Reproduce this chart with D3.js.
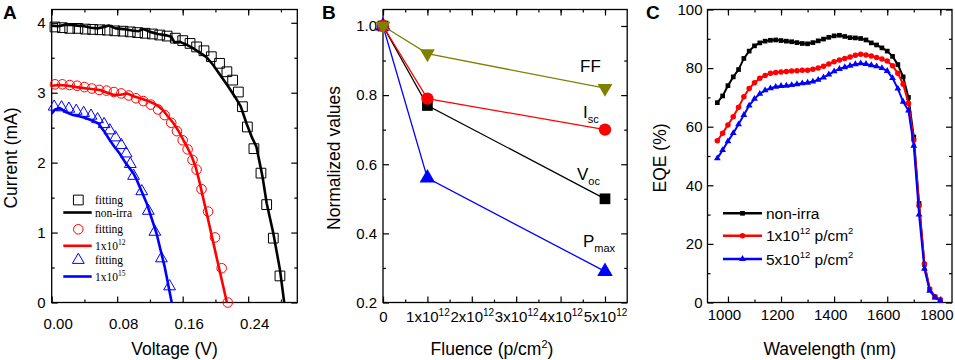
<!DOCTYPE html>
<html>
<head>
<meta charset="utf-8">
<script src="https://cdn.jsdelivr.net/npm/d3@7"></script>
<style>
body { margin: 0; background: #fff; }
svg { font-family: Arial, "Liberation Sans", sans-serif; }
</style>
</head>
<body>
<svg id="chart" width="955" height="360"></svg>
<script>
// ---- panel A: I-V curves, [voltage V, current mA]
var nonIrraLine = [[0.000, 3.96], [0.008, 3.95], [0.016, 3.97], [0.024, 3.97], [0.032, 3.96], [0.040, 3.95],
    [0.048, 3.93], [0.056, 3.92], [0.064, 3.94], [0.070, 3.96], [0.078, 3.92], [0.088, 3.91], [0.098, 3.89],
    [0.106, 3.88], [0.112, 3.91], [0.120, 3.87], [0.130, 3.84], [0.140, 3.82], [0.146, 3.80], [0.150, 3.72],
    [0.156, 3.73], [0.164, 3.69], [0.172, 3.64], [0.180, 3.58], [0.189, 3.51], [0.197, 3.40], [0.206, 3.25],
    [0.215, 3.10], [0.224, 2.94], [0.231, 2.80], [0.238, 2.56], [0.245, 2.35], [0.250, 2.23], [0.2575, 1.80],
    [0.2626, 1.42], [0.2707, 0.99], [0.2788, 0.47], [0.284, 0.0]];
var nonIrraFit = [[0.004, 3.94], [0.013, 3.93], [0.022, 3.92], [0.032, 3.92], [0.041, 3.91], [0.050, 3.905],
    [0.059, 3.90], [0.068, 3.895], [0.077, 3.885], [0.087, 3.88], [0.096, 3.87], [0.105, 3.86], [0.114, 3.85],
    [0.123, 3.84], [0.132, 3.825], [0.141, 3.81], [0.151, 3.78], [0.160, 3.745], [0.169, 3.705], [0.177, 3.655],
    [0.186, 3.60], [0.195, 3.515], [0.205, 3.42], [0.214, 3.30], [0.221, 3.18], [0.228, 3.01], [0.233, 2.80],
    [0.239, 2.51], [0.247, 2.20], [0.2556, 1.85], [0.2626, 1.40], [0.2707, 0.92], [0.2788, 0.38]];
var e12Line = [[0.000, 3.10], [0.010, 3.11], [0.020, 3.10], [0.030, 3.08], [0.043, 3.06], [0.059, 3.04],
    [0.068, 3.00], [0.075, 2.97], [0.084, 2.97], [0.092, 2.99], [0.100, 2.95], [0.108, 2.92], [0.116, 2.89],
    [0.124, 2.85], [0.130, 2.81], [0.136, 2.75], [0.142, 2.66], [0.149, 2.56], [0.155, 2.45], [0.161, 2.32],
    [0.166, 2.21], [0.171, 2.09], [0.176, 1.93], [0.180, 1.75], [0.190, 1.24], [0.200, 0.72], [0.214, 0.0]];
var e12Fit = [[0.004, 3.12], [0.013, 3.12], [0.022, 3.11], [0.031, 3.10], [0.040, 3.08], [0.049, 3.06],
    [0.058, 3.04], [0.067, 3.03], [0.076, 3.01], [0.085, 2.99], [0.094, 2.96], [0.103, 2.92], [0.112, 2.88],
    [0.121, 2.83], [0.130, 2.76], [0.138, 2.68], [0.146, 2.57], [0.153, 2.45], [0.160, 2.32], [0.166, 2.19],
    [0.172, 2.04], [0.177, 1.90], [0.183, 1.62], [0.191, 1.30], [0.1995, 0.93], [0.2076, 0.49], [0.215, 0.0]];
var e15Line = [[0.000, 2.70], [0.004, 2.76], [0.010, 2.78], [0.018, 2.72], [0.026, 2.68], [0.035, 2.66],
    [0.043, 2.63], [0.050, 2.60], [0.057, 2.56], [0.064, 2.45], [0.071, 2.32], [0.077, 2.22], [0.083, 2.13],
    [0.090, 2.00], [0.0997, 1.85], [0.104, 1.75], [0.116, 1.42], [0.128, 0.99], [0.138, 0.51], [0.1466, 0.0]];
var e15Fit = [[0.003, 2.80], [0.012, 2.79], [0.021, 2.77], [0.030, 2.74], [0.039, 2.71], [0.048, 2.67],
    [0.056, 2.62], [0.064, 2.55], [0.071, 2.46], [0.078, 2.36], [0.085, 2.25], [0.091, 2.13], [0.096, 1.98],
    [0.100, 1.81], [0.110, 1.59], [0.118, 1.31], [0.126, 1.01], [0.134, 0.63], [0.144, 0.23]];
var voltageTicks = [0, 0.08, 0.16, 0.24];
var voltageMinor = [0.04, 0.12, 0.20, 0.28];
var currentTicks = [0, 1, 2, 3, 4];
var currentMinor = [0.5, 1.5, 2.5, 3.5];

// ---- panel B: normalized parameters vs fluence
var fluence = [0, 1e12, 5e12];
var ffValues = [1.0, 0.92, 0.82];
var iscValues = [1.0, 0.79, 0.70];
var vocValues = [1.0, 0.77, 0.50];
var pmaxValues = [1.0, 0.56, 0.29];
var fluenceTicks = [0, 1e12, 2e12, 3e12, 4e12, 5e12];
var fluenceMinor = [0.5e12, 1.5e12, 2.5e12, 3.5e12, 4.5e12];
var normTicks = [0.2, 0.4, 0.6, 0.8, 1.0];
var normMinor = [0.3, 0.5, 0.7, 0.9];

// ---- panel C: EQE spectra
var wavelength = [960, 980, 1000, 1020, 1040, 1060, 1080, 1100, 1120, 1140, 1160, 1180, 1200, 1220, 1240,
    1260, 1280, 1300, 1320, 1340, 1360, 1380, 1400, 1420, 1440, 1460, 1480, 1500, 1520, 1540, 1560, 1580,
    1600, 1620, 1640, 1660, 1680, 1700, 1720, 1740, 1760, 1780, 1800];
var eqeNonIrra = [68.2, 70.5, 74.0, 77.0, 79.5, 83.3, 85.8, 87.6, 88.6, 89.2, 89.5, 89.6, 89.4, 89.2, 89.0,
    88.7, 88.4, 88.3, 88.7, 89.3, 89.9, 90.5, 91.0, 91.2, 90.8, 90.4, 90.3, 90.1, 89.6, 88.6, 87.9, 86.9,
    85.8, 84.0, 81.2, 77.0, 70.0, 56.5, 33.8, 13.0, 4.5, 1.9, 0.8];
var eqe1e12 = [55.2, 57.8, 60.6, 63.4, 66.6, 70.2, 73.0, 75.0, 76.5, 77.5, 78.2, 78.5, 78.7, 78.8, 79.0,
    79.1, 79.3, 79.3, 79.6, 80.0, 80.6, 81.4, 82.2, 82.8, 83.3, 83.8, 84.4, 84.7, 84.5, 84.1, 83.6, 83.1,
    82.4, 80.8, 78.2, 74.5, 68.0, 55.5, 33.0, 13.2, 4.6, 2.0, 0.9];
var eqe5e12 = [49.2, 52.0, 55.0, 57.8, 60.8, 64.0, 67.2, 69.5, 71.2, 72.4, 73.1, 73.6, 73.9, 74.0, 74.2,
    74.5, 74.8, 75.0, 75.4, 76.0, 76.8, 77.8, 78.9, 79.7, 80.3, 80.8, 81.3, 81.6, 81.4, 81.0, 80.6, 80.0,
    79.0, 76.6, 73.0, 68.5, 65.5, 53.5, 30.0, 11.5, 4.0, 1.7, 0.6];
var wavelengthTicks = [1000, 1200, 1400, 1600, 1800];
var wavelengthMinor = [1100, 1300, 1500, 1700];
var eqeTicks = [0, 20, 40, 60, 80, 100];
var eqeMinor = [10, 30, 50, 70, 90];

var svg = d3.select("#chart");
var FONT = "Arial, 'Liberation Sans', sans-serif";

var strip = function(sel) {
    sel.select(".domain").remove();
    sel.attr("font-family", FONT).attr("font-size", 15);
    sel.selectAll(".tick line").attr("stroke-width", 1.2);
};

// frame with inward major/minor ticks on all four sides
var drawAxes = function(x, y, cfg) {
    var g = svg.append("g");
    var left = x.range()[0], right = x.range()[1], bottom = y.range()[0], top = y.range()[1];

    g.append("g").attr("transform", "translate(0," + bottom + ")")
        .call(d3.axisBottom(x).tickValues(cfg.xMinor).tickSize(-3).tickSizeOuter(0).tickFormat("")).call(strip);
    g.append("g").attr("transform", "translate(0," + top + ")")
        .call(d3.axisTop(x).tickValues(cfg.xMinor.concat(cfg.xTicks)).tickSize(-3).tickSizeOuter(0).tickFormat("")).call(strip);
    g.append("g").attr("transform", "translate(" + left + ",0)")
        .call(d3.axisLeft(y).tickValues(cfg.yMinor).tickSize(-3).tickSizeOuter(0).tickFormat("")).call(strip);
    g.append("g").attr("transform", "translate(" + right + ",0)")
        .call(d3.axisRight(y).tickValues(cfg.yMinor).tickSize(-3).tickSizeOuter(0).tickFormat("")).call(strip);

    g.append("g").attr("transform", "translate(0," + top + ")")
        .call(d3.axisTop(x).tickValues(cfg.xTicks).tickSize(-6).tickSizeOuter(0).tickFormat("")).call(strip);
    g.append("g").attr("transform", "translate(" + right + ",0)")
        .call(d3.axisRight(y).tickValues(cfg.yTicks).tickSize(-6).tickSizeOuter(0).tickFormat("")).call(strip);

    var xa = g.append("g").attr("transform", "translate(0," + bottom + ")")
        .call(d3.axisBottom(x).tickValues(cfg.xTicks).tickSize(-6).tickSizeOuter(0)
            .tickPadding(cfg.xPad).tickFormat(cfg.xFormat)).call(strip);
    var ya = g.append("g").attr("transform", "translate(" + left + ",0)")
        .call(d3.axisLeft(y).tickValues(cfg.yTicks).tickSize(-6).tickSizeOuter(0)
            .tickPadding(cfg.yPad).tickFormat(cfg.yFormat)).call(strip);

    g.append("rect")
        .attr("x", left).attr("y", top)
        .attr("width", right - left).attr("height", bottom - top)
        .attr("fill", "none").attr("stroke", "#000").attr("stroke-width", 1.3);

    // axis titles
    g.append("text")
        .attr("x", cfg.xTitleX == null ? (left + right) / 2 : cfg.xTitleX).attr("y", 355)
        .attr("text-anchor", "middle").attr("font-size", 17.5)
        .call(cfg.xTitle);
    g.append("text")
        .attr("transform", "translate(" + cfg.yTitleX + "," + 158 + ") rotate(-90)")
        .attr("text-anchor", "middle").attr("font-size", 17.5)
        .text(cfg.yTitle);
    g.append("text")
        .attr("x", cfg.letterX).attr("y", 19)
        .attr("font-size", 19).attr("font-weight", "bold")
        .text(cfg.letter);

    return {x: xa, y: ya};
};

var plainText = function(s) {
    return function(t) { t.text(s); };
};

var lineGen = function(x, y) {
    return d3.line().x(function(d) { return x(d[0]); }).y(function(d) { return y(d[1]); });
};

// ================= panel A
var xA = d3.scaleLinear().domain([0, 0.3]).range([51.7, 297.3]);
var yA = d3.scaleLinear().domain([0, 4.19]).range([302.5, 9.5]);
var axA = drawAxes(xA, yA, {
    xTicks: voltageTicks, xMinor: voltageMinor, yTicks: currentTicks, yMinor: currentMinor,
    xFormat: d3.format(".2f"), yFormat: d3.format("d"), xPad: 16, yPad: 6,
    xTitle: plainText("Voltage (V)"), yTitle: "Current (mA)", yTitleX: 17, letter: "A", letterX: 3
});
// tick labels sit a little to the right of their ticks in the original
axA.x.selectAll(".tick text").attr("dx", 6);

var seriesA = [
    {line: nonIrraLine, fit: nonIrraFit, color: "#000000", symbol: d3.symbolSquare, size: 95, name: "non-irra", sup: ""},
    {line: e12Line, fit: e12Fit, color: "#ff0000", symbol: d3.symbolCircle, size: 72, name: "1x10", sup: "12"},
    {line: e15Line, fit: e15Fit, color: "#0000ff", symbol: d3.symbolTriangle, size: 60, name: "1x10", sup: "15"}
];

seriesA.forEach(function(s) {
    svg.append("g").selectAll("path")
        .data(s.fit)
        .enter().append("path")
        .attr("transform", function(d) { return "translate(" + xA(d[0]) + "," + yA(d[1]) + ")"; })
        .attr("d", d3.symbol().type(s.symbol).size(s.size))
        .attr("fill", "none").attr("stroke", s.color).attr("stroke-width", 1);
    svg.append("path")
        .datum(s.line)
        .attr("d", lineGen(xA, yA))
        .attr("fill", "none").attr("stroke", s.color).attr("stroke-width", 2.6)
        .attr("stroke-linejoin", "round");
});

// legend A
var legA = svg.append("g").attr("font-family", "'Liberation Serif', 'Times New Roman', serif").attr("font-size", 11.5);
var legRowsA = [200, 229.3, 260];
seriesA.forEach(function(s, i) {
    var yFit = legRowsA[i], yLine = legRowsA[i] + (i === 0 ? 12.5 : 16.5);
    legA.append("path")
        .attr("transform", "translate(78.3," + yFit + ")")
        .attr("d", d3.symbol().type(s.symbol).size(s.size))
        .attr("fill", "none").attr("stroke", s.color).attr("stroke-width", 1);
    legA.append("text").attr("x", 95).attr("y", yFit + 4).text("fitting");
    legA.append("line")
        .attr("x1", 63.3).attr("x2", 91.7).attr("y1", yLine).attr("y2", yLine)
        .attr("stroke", s.color).attr("stroke-width", 2.6);
    var t = legA.append("text").attr("x", 95).attr("y", yLine + 4);
    t.append("tspan").text(s.name);
    if (s.sup) {
        t.append("tspan").attr("dy", -5).attr("font-size", 7.5).text(s.sup);
    }
});

// ================= panel B
var xB = d3.scaleLinear().domain([0, 5.5e12]).range([383, 627.2]);
var yB = d3.scaleLinear().domain([0.2, 1.0477]).range([302.5, 9.5]);
var axB = drawAxes(xB, yB, {
    xTicks: fluenceTicks, xMinor: fluenceMinor, yTicks: normTicks, yMinor: normMinor,
    xFormat: function() { return ""; }, yFormat: d3.format(".1f"), xPad: 9, yPad: 6,
    xTitle: function(t) {
        t.append("tspan").text("Fluence (p/cm");
        t.append("tspan").attr("dy", -7).attr("font-size", 11).text("2");
        t.append("tspan").attr("dy", 7).text(")");
    },
    xTitleX: 492, yTitle: "Normalized values", yTitleX: 340, letter: "B", letterX: 322
});
axB.x.selectAll(".tick text").each(function(d) {
    var t = d3.select(this);
    if (d === 0) {
        t.append("tspan").text("0");
        return;
    }
    t.append("tspan").text(d / 1e12 + "x10");
    t.append("tspan").attr("dy", -6).attr("font-size", 10).text("12");
});

var seriesB = [
    {values: vocValues, color: "#000000", symbol: d3.symbolSquare, size: 115, rot: 0, label: "V", sub: "oc", lx: 577, ly: 180},
    {values: pmaxValues, color: "#0000ff", symbol: d3.symbolTriangle, size: 105, rot: 0, label: "P", sub: "max", lx: 583, ly: 247},
    {values: iscValues, color: "#ff0000", symbol: d3.symbolCircle, size: 120, rot: 0, label: "I", sub: "sc", lx: 583, ly: 118},
    {values: ffValues, color: "#808000", symbol: d3.symbolTriangle, size: 95, rot: 180, label: "FF", sub: "", lx: 580, ly: 72}
];

seriesB.forEach(function(s) {
    var pts = fluence.map(function(f, i) { return [f, s.values[i]]; });
    svg.append("path")
        .datum(pts)
        .attr("d", lineGen(xB, yB))
        .attr("fill", "none").attr("stroke", s.color).attr("stroke-width", 1.3);
    svg.append("g").selectAll("path")
        .data(pts)
        .enter().append("path")
        .attr("transform", function(d) {
            return "translate(" + xB(d[0]) + "," + yB(d[1]) + ") rotate(" + s.rot + ")";
        })
        .attr("d", d3.symbol().type(s.symbol).size(s.size))
        .attr("fill", s.color);
    var t = svg.append("text").attr("x", s.lx).attr("y", s.ly).attr("font-size", 17);
    t.append("tspan").text(s.label);
    if (s.sub) {
        t.append("tspan").attr("dy", 5).attr("font-size", 11).text(s.sub);
    }
});

// ================= panel C
var xC = d3.scaleLinear().domain([923, 1844]).range([707.5, 952]);
var yC = d3.scaleLinear().domain([0, 100]).range([302.5, 9.5]);
var axC = drawAxes(xC, yC, {
    xTicks: wavelengthTicks, xMinor: wavelengthMinor, yTicks: eqeTicks, yMinor: eqeMinor,
    xFormat: d3.format("d"), yFormat: d3.format("d"), xPad: 7, yPad: 5,
    xTitle: plainText("Wavelength (nm)"), yTitle: "EQE (%)", yTitleX: 666, letter: "C", letterX: 646
});
// labels sit slightly left of their ticks in the original
axC.x.selectAll(".tick text").attr("dx", -4);

var seriesC = [
    {values: eqeNonIrra, color: "#000000", symbol: d3.symbolSquare, size: 22, name: "non-irra", sup: false},
    {values: eqe1e12, color: "#ff0000", symbol: d3.symbolCircle, size: 24, name: "1x10", sup: true},
    {values: eqe5e12, color: "#0000ff", symbol: d3.symbolTriangle, size: 20, name: "5x10", sup: true}
];
var legRowsC = [213.3, 235.7, 259];

seriesC.forEach(function(s, i) {
    var pts = wavelength.map(function(w, j) { return [w, s.values[j]]; });
    svg.append("path")
        .datum(pts)
        .attr("d", lineGen(xC, yC))
        .attr("fill", "none").attr("stroke", s.color).attr("stroke-width", 2);
    svg.append("g").selectAll("path")
        .data(pts)
        .enter().append("path")
        .attr("transform", function(d) { return "translate(" + xC(d[0]) + "," + yC(d[1]) + ")"; })
        .attr("d", d3.symbol().type(s.symbol).size(s.size))
        .attr("fill", s.color);

    var ly = legRowsC[i];
    svg.append("line")
        .attr("x1", 723).attr("x2", 762).attr("y1", ly).attr("y2", ly)
        .attr("stroke", s.color).attr("stroke-width", 2.6);
    svg.append("path")
        .attr("transform", "translate(742.5," + ly + ")")
        .attr("d", d3.symbol().type(s.symbol).size(s.size))
        .attr("fill", s.color);
    var t = svg.append("text").attr("x", 766).attr("y", ly + 5.5).attr("font-size", 15.5);
    t.append("tspan").text(s.name);
    if (s.sup) {
        t.append("tspan").attr("dy", -7).attr("font-size", 9.5).text("12");
        t.append("tspan").attr("dy", 7).text(" p/cm");
        t.append("tspan").attr("dy", -7).attr("font-size", 9.5).text("2");
    }
});
</script>
</body>
</html>
